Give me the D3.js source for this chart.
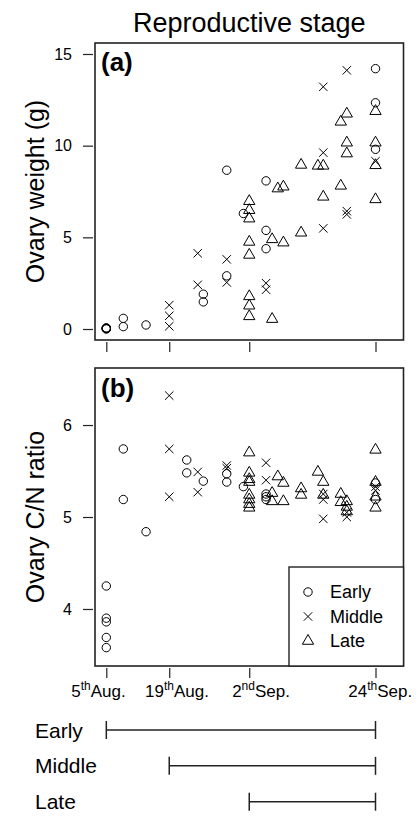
<!DOCTYPE html>
<html><head><meta charset="utf-8">
<script src="https://cdn.jsdelivr.net/npm/d3@7"></script>
<style>
body{margin:0;background:#fff}
text{font-family:"Liberation Sans",Arial,Helvetica,sans-serif;fill:#000}
</style>
</head><body>
<svg id="chart" width="418" height="816"></svg>
<script>
// ---- data ----
const groups = ["Early", "Middle", "Late"];
const tickDays = [0, 11.69, 26.55, 50];
const tickLabels = [["5","th","Aug."],["19","th","Aug."],["2","nd","Sep."],["24","th","Sep."]];
const tickLabelAt = [-1.45, 13.14, 28.74, 50.87];
const groupStart = [0, 11.69, 26.55];
const groupEnd = [50, 50, 50];
const weightTicks = [0, 5, 10, 15];
const cnTicks = [4, 5, 6];

const weightEarly = [
  [0,0.0],[0,0.03],[0,0.05],[0,0.02],[0,0.06],
  [3.16,0.58],[3.16,0.13],
  [7.38,0.22],
  [18.02,1.90],[18.02,1.48],
  [22.37,2.90],[22.37,8.66],
  [25.46,6.30],
  [29.67,8.08],[29.67,5.38],[29.67,4.38],
  [50,14.2],[50,12.34],[50,9.80]
];
const weightMiddle = [
  [11.69,1.30],[11.69,0.72],[11.69,0.15],
  [16.98,4.13],[16.98,2.41],
  [22.37,3.80],[22.37,2.54],
  [29.67,2.50],[29.67,2.14],
  [40.3,5.49],[40.3,13.21],[40.3,9.62],
  [44.67,6.43],[44.67,6.25],[44.67,14.11],
  [50,9.15]
];
const weightLate = [
  [26.55,6.97],[26.55,6.48],[26.55,6.02],[26.55,4.75],[26.55,4.04],[26.55,1.78],[26.55,1.27],[26.55,0.69],
  [30.8,4.89],[30.8,0.54],
  [31.85,7.66],
  [32.89,7.76],[32.89,4.71],
  [36.18,5.25],[36.18,8.95],
  [39.3,8.9],
  [40.3,8.9],[40.3,7.21],
  [43.55,11.30],[43.55,7.81],
  [44.67,11.74],[44.67,10.16],[44.67,9.57],
  [50,11.88],[50,10.16],[50,8.93],[50,7.07]
];
const cnEarly = [
  [0,4.25],[0,3.90],[0,3.86],[0,3.69],[0,3.58],
  [3.16,5.74],[3.16,5.19],
  [7.38,4.84],
  [14.94,5.62],[14.94,5.48],
  [18.02,5.39],
  [22.37,5.47],[22.37,5.38],
  [25.46,5.33],
  [29.67,5.25],[29.67,5.22],[29.67,5.19],
  [50,5.37],[50,5.19]
];
const cnMiddle = [
  [11.69,6.32],[11.69,5.74],[11.69,5.22],
  [16.98,5.49],[16.98,5.27],
  [22.37,5.56],[22.37,5.53],
  [29.67,5.59],[29.67,5.40],
  [40.3,5.25],[40.3,5.19],[40.3,4.98],
  [44.67,5.05],[44.67,5.00],
  [50,5.33],[50,5.29]
];
const cnLate = [
  [26.55,5.70],[26.55,5.48],[26.55,5.41],[26.55,5.38],[26.55,5.24],[26.55,5.19],[26.55,5.14],[26.55,5.10],
  [30.8,5.26],[30.8,5.17],
  [31.85,5.44],
  [32.89,5.37],[32.89,5.17],
  [36.18,5.31],[36.18,5.24],
  [39.3,5.49],
  [40.3,5.38],[40.3,5.24],
  [43.55,5.25],[43.55,5.16],
  [44.67,5.17],[44.67,5.11],[44.67,5.06],
  [50,5.73],[50,5.38],[50,5.22],[50,5.10]
];

// ---- layout ----
const L = 95, R = 403.5;
const svg = d3.select("#chart");
const x = d3.scaleLinear().domain([-2.1, 55.2]).range([L, R]);

const mr = 4.2;
const shapePath = {
  Early: r => `M${-r},0a${r},${r} 0 1,0 ${2*r},0a${r},${r} 0 1,0 ${-2*r},0`,
  Middle: r => `M${-r},${-r}L${r},${r}M${-r},${r}L${r},${-r}`,
  Late: r => { const a = 1.5551*r, h = a*0.8660, b = a/2; return `M0,${-a}L${h},${b}L${-h},${b}Z`; }
};

svg.append("text").attr("x", (L+R)/2).attr("y", 32).attr("text-anchor","middle")
  .style("font-size","27px").text("Reproductive stage");

const panels = [
  {top:43, bottom:340, domain:[-0.6,15.6], ticks:weightTicks, title:"Ovary weight (g)", tag:"(a)", tagY:71, sets:[weightEarly, weightMiddle, weightLate], labels:false},
  {top:368, bottom:666, domain:[3.38,6.62], ticks:cnTicks, title:"Ovary C/N ratio", tag:"(b)", tagY:397, sets:[cnEarly, cnMiddle, cnLate], labels:true}
];

panels.forEach(p => {
  const y = d3.scaleLinear().domain(p.domain).range([p.bottom, p.top]);
  const g = svg.append("g");

  // points
  p.sets.forEach((set, i) => {
    g.append("g").selectAll("path").data(set).join("path")
      .attr("transform", d => `translate(${x(d[0])},${y(d[1])})`)
      .attr("d", shapePath[groups[i]](mr))
      .attr("fill","none").attr("stroke","#000").attr("stroke-width",1);
  });

  // box
  g.append("rect").attr("x", L).attr("y", p.top).attr("width", R-L).attr("height", p.bottom-p.top)
    .attr("fill","none").attr("stroke","#222").attr("stroke-width",1.6);

  // y axis
  const ya = g.append("g").attr("transform",`translate(${L-2},0)`)
    .call(d3.axisLeft(y).tickValues(p.ticks).tickSize(10).tickPadding(11).tickFormat(d3.format("d")));
  ya.select(".domain").remove();
  ya.selectAll("line").attr("stroke","#222").attr("stroke-width",1.2);
  ya.selectAll("text").style("font-size","16px").style("font-family",'"Liberation Sans",Arial,sans-serif');

  // x axis ticks
  const xa = g.append("g").attr("transform",`translate(0,${p.bottom+2})`)
    .call(d3.axisBottom(x).tickValues(tickDays).tickSize(10).tickFormat(""));
  xa.select(".domain").remove();
  xa.selectAll("line").attr("stroke","#222").attr("stroke-width",1.2);

  if (p.labels) {
    const lab = g.append("g").selectAll("text").data(tickLabels).join("text")
      .attr("x", (d,i) => x(tickLabelAt[i])).attr("y", p.bottom + 31)
      .attr("text-anchor","middle").style("font-size","17px");
    lab.append("tspan").text(d => d[0]);
    lab.append("tspan").attr("dy",-7).style("font-size","12px").text(d => d[1]);
    lab.append("tspan").attr("dy",7).text(d => d[2]);
  }

  // tag
  g.append("text").attr("x", L+6).attr("y", p.tagY).style("font-size","26px").style("font-weight","bold").text(p.tag);

  // y title
  g.append("text").attr("transform",`translate(44,${(p.top+p.bottom)/2}) rotate(-90)`)
    .attr("text-anchor","middle").style("font-size","25px").text(p.title);
});

// legend in panel (b)
const lg = svg.append("g");
lg.append("rect").attr("x", 289).attr("y", 567).attr("width", R-289).attr("height", 666-567)
  .attr("fill","#fff").attr("stroke","#222").attr("stroke-width",1.4);
const rows = lg.selectAll("g.row").data(groups).join("g").attr("class","row")
  .attr("transform",(d,i)=>`translate(308,${592 + i*24.5})`);
rows.append("path").attr("d", d => shapePath[d](mr)).attr("fill","none").attr("stroke","#000");
rows.append("text").attr("x",22).attr("dy","0.36em").style("font-size","18px").text(d => d);

// timeline
const tl = svg.append("g");
const rowY = d3.scalePoint().domain(groups).range([730, 801.7]);
const tr = tl.selectAll("g").data(groups).join("g").attr("transform", d => `translate(0,${rowY(d)})`);
tr.append("text").attr("x",35).attr("dy","0.36em").style("font-size","21px").text(d => d);
tr.append("line").attr("x1",(d,i)=>x(groupStart[i])).attr("x2",(d,i)=>x(groupEnd[i]))
  .attr("stroke","#222").attr("stroke-width",1.5);
tr.append("line").attr("x1",(d,i)=>x(groupStart[i])).attr("x2",(d,i)=>x(groupStart[i]))
  .attr("y1",-9).attr("y2",9).attr("stroke","#222").attr("stroke-width",1.5);
tr.append("line").attr("x1",(d,i)=>x(groupEnd[i])).attr("x2",(d,i)=>x(groupEnd[i]))
  .attr("y1",-9).attr("y2",9).attr("stroke","#222").attr("stroke-width",1.5);
</script>
</body></html>
